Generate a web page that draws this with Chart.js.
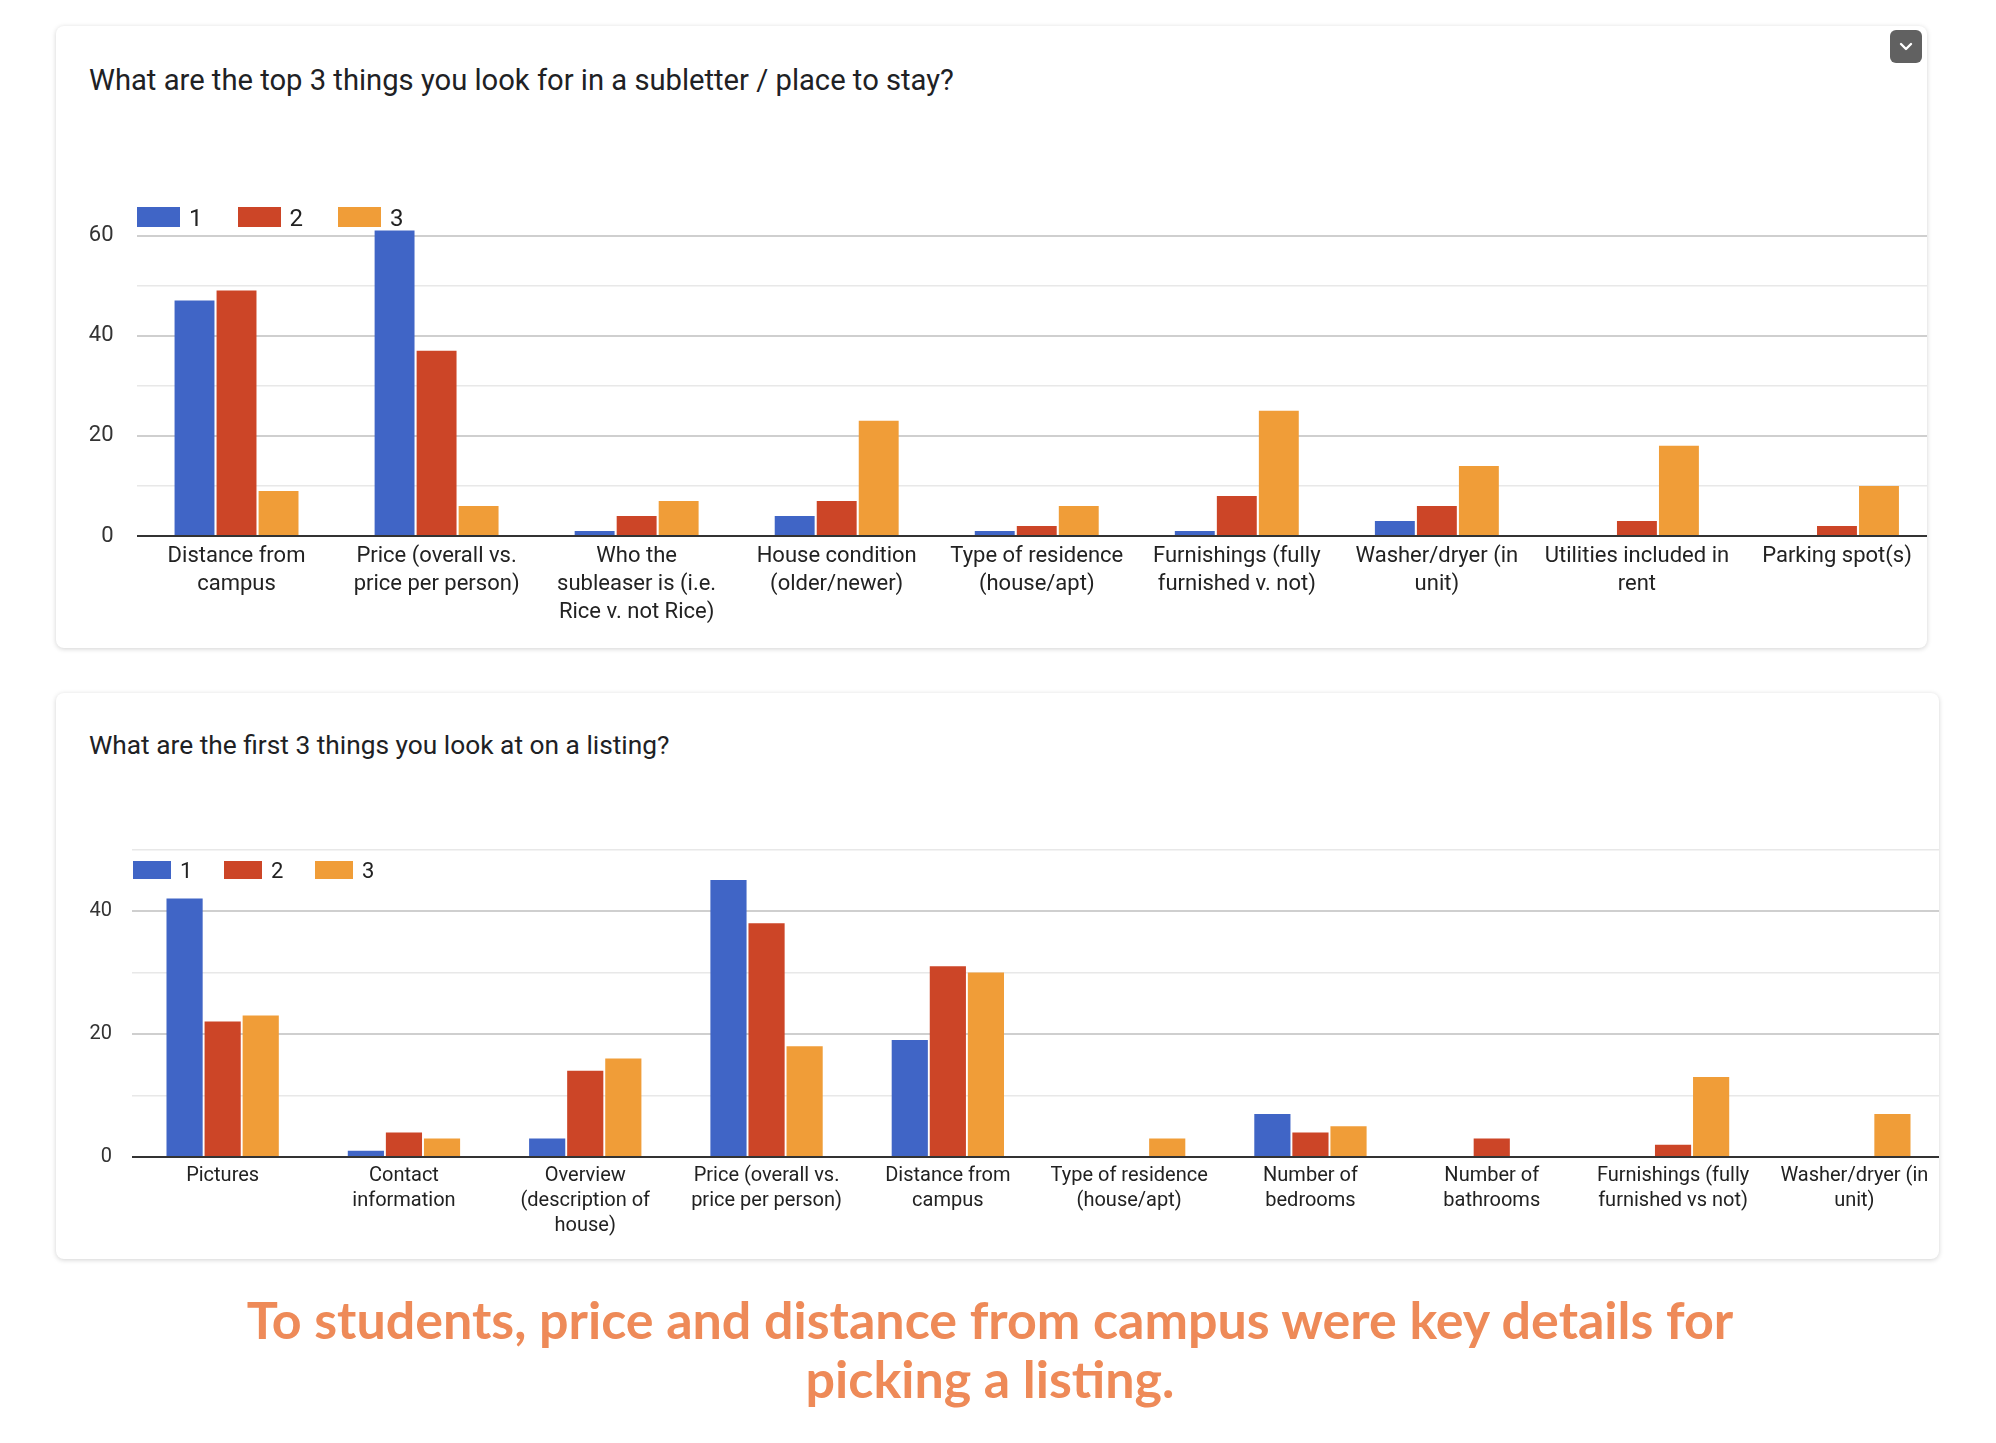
<!DOCTYPE html>
<html>
<head>
<meta charset="utf-8">
<script src="https://cdn.jsdelivr.net/npm/chart.js@4"></script>
<style>
  html, body { margin: 0; padding: 0; background: #fff; }
  body { width: 1996px; height: 1443px; position: relative; overflow: hidden; font-family: Roboto, Arial, sans-serif; }
  .card { position: absolute; background: #fff; border-radius: 8px; box-shadow: 0 1px 5px rgba(0,0,0,0.18); overflow: hidden; }
  .title { position: absolute; color: #202124; line-height: 1; white-space: nowrap; }
  .legend { position: absolute; color: #222; line-height: 1; }
  .legend span.box { position: absolute; display: block; }
  .legend span.txt { position: absolute; display: block; }
  canvas { position: absolute; }
  .menu { position: absolute; left: 1890px; top: 30px; width: 32px; height: 33px; background: #616161; border-radius: 6px; }
  .caption { position: absolute; left: 0; width: 1980px; top: 1290px; text-align: center; color: #EE8A58; font-family: Lato, sans-serif; font-weight: 700; font-size: 52px; line-height: 59px; }
</style>
</head>
<body>
<div class="card" style="left:56px;top:26px;width:1871px;height:622px">
  <canvas id="top" width="1881" height="456" style="left:0;top:154px"></canvas>
</div>
<div class="card" style="left:56px;top:693px;width:1883px;height:566px">
  <canvas id="bottom" width="1889" height="457" style="left:0;top:107px"></canvas>
</div>

<div class="title" style="left:89px;top:65.6px;font-size:29.2px">What are the top 3 things you look for in a subletter / place to stay?</div>
<div class="title" style="left:89px;top:732px;font-size:26.3px">What are the first 3 things you look at on a listing?</div>

<div class="menu">
  <svg width="32" height="33" viewBox="0 0 32 33"><path d="M11 14 L16 19 L21 14" fill="none" stroke="#fff" stroke-width="2.4" stroke-linecap="round" stroke-linejoin="round"/></svg>
</div>

<div id="legendTop" class="legend"></div>
<div id="legendBottom" class="legend"></div>

<div class="caption">To students, price and distance from campus were key details for<br>picking a listing.</div>

<script>
// series names + colours
const seriesNames = ["1", "2", "3"];
const seriesColors = ["#4065C6", "#CC4527", "#F09D38"];

// chart 1: top 3 things you look for in a subletter
const lookForLabels = [
  ["Distance from", "campus"],
  ["Price (overall vs.", "price per person)"],
  ["Who the", "subleaser is (i.e.", "Rice v. not Rice)"],
  ["House condition", "(older/newer)"],
  ["Type of residence", "(house/apt)"],
  ["Furnishings (fully", "furnished v. not)"],
  ["Washer/dryer (in", "unit)"],
  ["Utilities included in", "rent"],
  ["Parking spot(s)"]
];
const lookFor1 = [47, 61, 1, 4, 1, 1, 3, 0, 0];
const lookFor2 = [49, 37, 4, 7, 2, 8, 6, 3, 2];
const lookFor3 = [9, 6, 7, 23, 6, 25, 14, 18, 10];
const lookForTicks = [0, 20, 40, 60];

// chart 2: first 3 things you look at on a listing
const listingLabels = [
  ["Pictures"],
  ["Contact", "information"],
  ["Overview", "(description of", "house)"],
  ["Price (overall vs.", "price per person)"],
  ["Distance from", "campus"],
  ["Type of residence", "(house/apt)"],
  ["Number of", "bedrooms"],
  ["Number of", "bathrooms"],
  ["Furnishings (fully", "furnished vs not)"],
  ["Washer/dryer (in", "unit)"]
];
const listing1 = [42, 1, 3, 45, 19, 0, 7, 0, 0, 0];
const listing2 = [22, 4, 14, 38, 31, 0, 4, 3, 2, 0];
const listing3 = [23, 3, 16, 18, 30, 3, 5, 0, 13, 7];
const listingTicks = [0, 20, 40];

function makeLegend(id, x, y, boxW, boxH, gap, textOff, fontSize) {
  const el = document.getElementById(id);
  el.style.left = x + "px";
  el.style.top = y + "px";
  el.style.fontSize = fontSize + "px";
  seriesNames.forEach((name, i) => {
    const b = document.createElement("span");
    b.className = "box";
    b.style.cssText = `left:${i * gap}px;top:0;width:${boxW}px;height:${boxH}px;background:${seriesColors[i]}`;
    const t = document.createElement("span");
    t.className = "txt";
    t.textContent = name;
    t.style.cssText = `left:${i * gap + textOff}px;top:${(boxH - fontSize) / 2 + 1}px`;
    el.appendChild(b);
    el.appendChild(t);
  });
}

function plotBars(canvasId, labels, series, maxY, tickVals, opt) {
  const ctx = document.getElementById(canvasId).getContext("2d");
  return new Chart(ctx, {
    type: "bar",
    data: {
      labels: labels,
      datasets: series.map((d, i) => ({
        label: seriesNames[i],
        data: d,
        backgroundColor: seriesColors[i],
        borderWidth: 0,
        categoryPercentage: 0.63,
        barPercentage: 0.95,
        clip: false
      }))
    },
    options: {
      responsive: false,
      animation: false,
      layout: { padding: { top: opt.padTop, left: 0, right: 0, bottom: 0 } },
      plugins: {
        legend: { display: false },
        tooltip: { enabled: false }
      },
      scales: {
        x: {
          grid: { display: false, drawTicks: false },
          border: { display: false },
          ticks: {
            autoSkip: false, maxRotation: 0, minRotation: 0,
            padding: opt.xPad, color: "#222",
            font: { family: "Roboto", size: opt.xFont, lineHeight: opt.xLine / opt.xFont }
          },
          afterFit: s => { s.height = opt.xHeight; }
        },
        y: {
          min: 0, max: maxY,
          border: { display: false },
          grid: {
            drawTicks: false,
            color: c => c.tick.value === 0 ? "#333" : (tickVals.includes(c.tick.value) ? "#cfcfcf" : "#e8e8e8"),
            lineWidth: c => c.tick.value === 0 ? 2 : (tickVals.includes(c.tick.value) ? 2 : 1.5)
          },
          ticks: {
            stepSize: 10,
            padding: opt.yPad, color: "#333",
            font: { family: "Roboto", size: opt.yFont },
            callback: v => tickVals.includes(v) ? v : ""
          },
          afterFit: s => { s.width = opt.yWidth; }
        }
      }
    }
  });
}

plotBars("top", lookForLabels, [lookFor1, lookFor2, lookFor3], 60, lookForTicks,
  { padTop: 55.5, xPad: 6, xFont: 22, xLine: 28, xHeight: 100, yPad: 23, yFont: 22, yWidth: 80.5 });
plotBars("bottom", listingLabels, [listing1, listing2, listing3], 50, listingTicks,
  { padTop: 49.3, xPad: 6.5, xFont: 20, xLine: 25, xHeight: 100, yPad: 20, yFont: 20, yWidth: 76 });

makeLegend("legendTop", 137, 207, 43, 20, 100.5, 52, 24);
makeLegend("legendBottom", 133, 861, 38, 18, 91, 47, 22);
</script>
</body>
</html>
